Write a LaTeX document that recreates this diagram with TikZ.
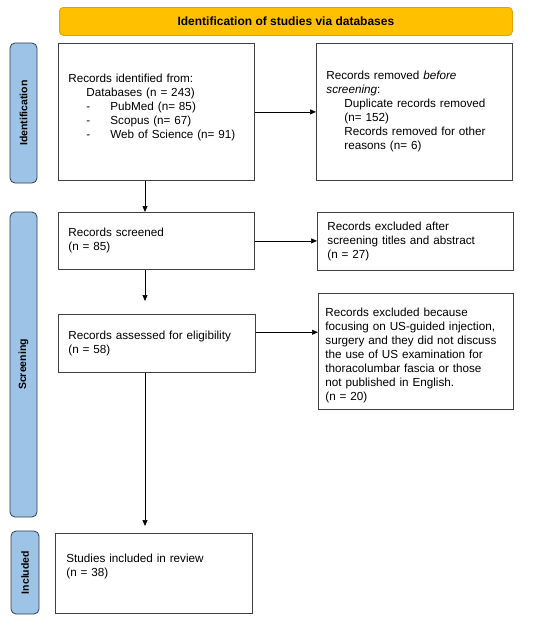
\documentclass[tikz,border=0pt]{standalone}
\usepackage{fontspec}
\setmainfont{Liberation Sans}
\usetikzlibrary{arrows.meta,calc}
\definecolor{banner}{HTML}{FFC000}
\definecolor{bannerline}{HTML}{E0A400}
\definecolor{phase}{HTML}{9DC3E6}
\definecolor{phaseline}{HTML}{2E3F50}
\begin{document}
\begin{tikzpicture}[x=1pt,y=-1pt, font=\fontsize{11.7}{14}\selectfont,
  box/.style={draw=black!75, line width=0.8pt, anchor=north west, align=left, inner xsep=10pt, inner ysep=0pt},
  phasebox/.style={draw=phaseline, fill=phase, rounded corners=5pt, line width=0.8pt, rotate=90, inner sep=0pt, font=\bfseries\fontsize{10.5}{12}\selectfont},
  arr/.style={-{Triangle[length=6pt,width=5pt]}, line width=0.7pt}]
\useasboundingbox (0,0) rectangle (550,622);

\node[draw=bannerline, fill=banner, rounded corners=4pt, anchor=north west, minimum width=453pt, minimum height=28pt, inner sep=0pt, line width=0.8pt, font=\bfseries\fontsize{12}{14}\selectfont] (title) at (59,7) {Identification of studies via databases};

\node[phasebox, minimum width=140pt, minimum height=27pt] (pid) at (23.5,113) {Identification};
\node[phasebox, minimum width=305pt, minimum height=27pt] (pscr) at (23.5,364.5) {Screening};
\node[phasebox, minimum width=83pt, minimum height=28pt] (pinc) at (25,572.5) {Included};

\node[box, text width=176pt, minimum height=137pt] (b1) at (58,43) {Records identified from:\\
\hspace*{18pt}Databases (n = 243)\\
\hspace*{18pt}\makebox[24pt][l]{-}PubMed (n= 85)\\
\hspace*{18pt}\makebox[24pt][l]{-}Scopus (n= 67)\\
\hspace*{18pt}\makebox[24pt][l]{-}Web of Science (n= 91)\rule[-11pt]{0pt}{1pt}};

\node[box, text width=176pt, minimum height=137pt] (b2) at (316,43) {Records removed \emph{before}\\
\emph{screening}:\\
\hspace*{18pt}Duplicate records removed\\
\hspace*{18pt}(n= 152)\\
\hspace*{18pt}Records removed for other\\
\hspace*{18pt}reasons (n= 6)};

\node[box, text width=176pt, minimum height=57pt] (scr) at (58,212) {Records screened\\(n = 85)};
\node[box, text width=176pt, minimum height=58pt] (exc1) at (317,212) {Records excluded after\\screening titles and abstract\\(n = 27)};
\node[box, text width=177pt, minimum height=58pt] (elig) at (58,314) {Records assessed for eligibility\\(n = 58)};
\node[box, inner xsep=7pt, text width=181pt, minimum height=116pt] (exc2) at (318,293) {\rule{0pt}{17pt}Records excluded because\\focusing on US-guided injection,\\surgery and they did not discuss\\the use of US examination for\\thoracolumbar fascia or those\\not published in English.\\(n = 20)};
\node[box, inner xsep=11pt, text width=175pt, minimum height=80pt] (inc) at (55,533) {Studies included in review\\(n = 38)\rule[-17pt]{0pt}{1pt}};

\draw[arr] (b1.east) -- (b2.west);
\draw[arr] (scr.east) -- (scr.east -| exc1.west);
\coordinate (e3) at ($(elig.north east)!0.31!(elig.south east)$);
\draw[arr] (e3) -- (e3 -| exc2.west);

\coordinate (v1) at ($(b1.south west)+(87,0)$);
\draw[arr] (v1) -- (v1 |- scr.north);
\coordinate (v2) at ($(scr.south west)+(87,0)$);
\draw[arr, shorten >=13pt] (v2) -- (v2 |- elig.north);
\coordinate (v3) at ($(elig.south west)+(87,0)$);
\draw[arr, shorten >=7pt] (v3) -- (v3 |- inc.north);
\end{tikzpicture}
\end{document}
